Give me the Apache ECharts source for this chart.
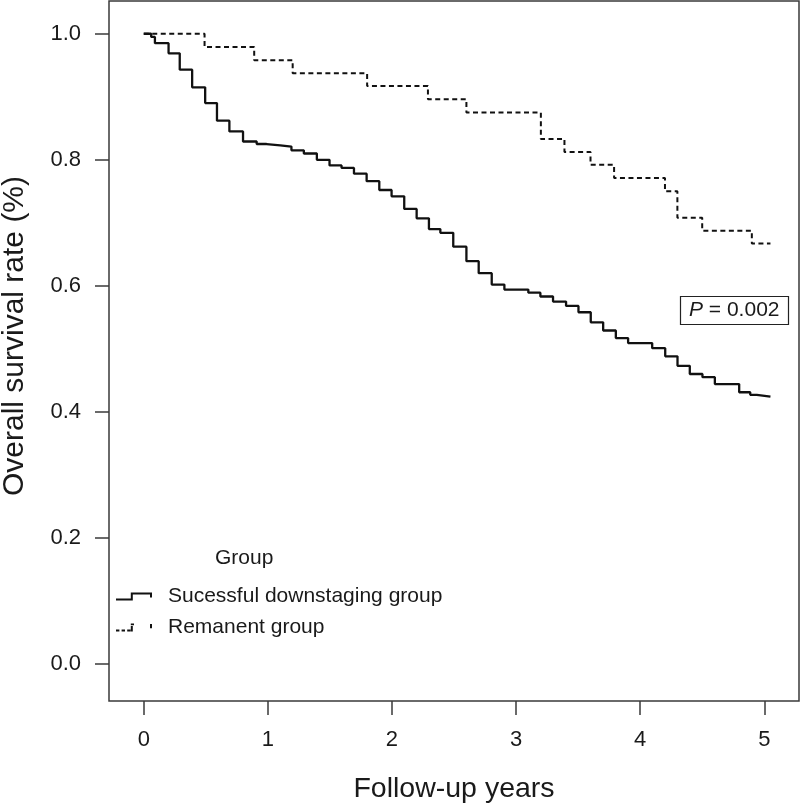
<!DOCTYPE html>
<html>
<head>
<meta charset="utf-8">
<script src="https://cdn.jsdelivr.net/npm/echarts@6/dist/echarts.min.js"></script>
<style>
  html, body { margin: 0; padding: 0; background: #fff; }
  #chart { width: 800px; height: 805px; }
</style>
</head>
<body>
<div id="chart"></div>
<script>
// ---- Data (Kaplan-Meier step curves) ----
const downstagingName = 'Sucessful downstaging group';
const downstagingTimes = [0, 0.06, 0.09, 0.20, 0.29, 0.39, 0.495, 0.59, 0.69, 0.80, 0.91, 0.99, 1.10, 1.19, 1.29, 1.395, 1.497, 1.594, 1.694, 1.796, 1.898, 1.997, 2.099, 2.199, 2.298, 2.39, 2.494, 2.60, 2.699, 2.804, 2.906, 3.099, 3.196, 3.298, 3.403, 3.503, 3.602, 3.702, 3.804, 3.903, 4.097, 4.202, 4.301, 4.40, 4.502, 4.602, 4.798, 4.887, 4.94, 5.05];
const downstagingSurvival = [1.0, 0.995, 0.985, 0.969, 0.943, 0.915, 0.890, 0.862, 0.845, 0.829, 0.825, 0.823, 0.821, 0.815, 0.810, 0.800, 0.791, 0.787, 0.778, 0.766, 0.752, 0.742, 0.722, 0.707, 0.690, 0.684, 0.662, 0.639, 0.620, 0.602, 0.594, 0.589, 0.583, 0.575, 0.568, 0.558, 0.542, 0.529, 0.517, 0.509, 0.501, 0.488, 0.473, 0.460, 0.455, 0.444, 0.431, 0.427, 0.424, 0.424];

const remanentName = 'Remanent group';
const remanentTimes = [0, 0.49, 0.89, 1.20, 1.80, 2.29, 2.60, 3.20, 3.39, 3.60, 3.79, 4.20, 4.30, 4.50, 4.90, 5.05];
const remanentSurvival = [1.0, 0.979, 0.958, 0.9375, 0.917, 0.896, 0.875, 0.833, 0.8125, 0.792, 0.771, 0.75, 0.708, 0.6875, 0.667, 0.667];

const xTickValues = [0, 1, 2, 3, 4, 5];
const yTickValues = [0, 0.2, 0.4, 0.6, 0.8, 1.0];
const xAxisTitle = 'Follow-up years';
const yAxisTitle = 'Overall survival rate (%)';
const legendTitle = 'Group';
const pValueText = '{i|P} = 0.002';

// ---- Chart ----
const FONT = '"Liberation Sans", Arial, Helvetica, sans-serif';
const TXT = '#1a1a1a';
const AX = '#3a3a3a';

const solidIcon = 'path://M0 6h16.5v2h-16.5z M14.8 0h2v8h-2z M14.8 0h21.2v2h-21.2z M34 0h2v5h-2z';
const dashIcon = 'path://M0 6h3.4v2h-3.4z M5.6 6h3.4v2h-3.4z M11.2 6h3.4v2h-3.4z M14.8 2.6h2v5.4h-2z M14.8 0h3.2v1.8h-3.2z M34 0.6h2v4.2h-2z';

const chart = echarts.init(document.getElementById('chart'), null, { renderer: 'canvas' });

chart.setOption({
  animation: false,
  backgroundColor: '#fff',
  textStyle: { fontFamily: FONT },
  grid: {
    left: 109, right: 1, top: 1, bottom: 104,
    show: true, borderColor: AX, borderWidth: 1.5,
    containLabel: false, outerBoundsMode: 'none'
  },
  title: [
    {
      text: legendTitle, left: 215, top: 548, padding: 0,
      textStyle: { fontFamily: FONT, fontSize: 21, fontWeight: 'normal', color: TXT }
    },
    {
      text: pValueText, left: 680, top: 296, padding: [4, 9, 4, 9],
      borderColor: '#222', borderWidth: 1.2,
      textStyle: {
        fontFamily: FONT, fontSize: 21, fontWeight: 'normal', color: TXT,
        rich: { i: { fontFamily: FONT, fontSize: 21, fontStyle: 'italic', color: TXT } }
      }
    }
  ],
  legend: {
    orient: 'vertical', left: 116, top: 581, padding: 0, itemGap: 0,
    itemWidth: 36, itemHeight: 8, selectedMode: false,
    itemStyle: { color: '#111', borderWidth: 0 },
    textStyle: { fontFamily: FONT, fontSize: 21, color: TXT, lineHeight: 31, padding: [0, 0, 0, 11] },
    data: [
      { name: downstagingName, icon: solidIcon },
      { name: remanentName, icon: dashIcon }
    ]
  },
  xAxis: {
    type: 'value', min: -0.28, max: 5.28,
    splitLine: { show: false },
    axisLine: { show: false, onZero: false },
    axisTick: { show: true, customValues: xTickValues, length: 14, lineStyle: { color: AX, width: 1.5 } },
    axisLabel: { customValues: xTickValues, margin: 28, fontSize: 22, color: TXT, fontFamily: FONT },
    name: xAxisTitle, nameLocation: 'middle', nameGap: 74,
    nameTextStyle: { fontSize: 28.5, color: TXT, fontFamily: FONT }
  },
  yAxis: {
    type: 'value', min: -0.059, max: 1.052,
    splitLine: { show: false },
    axisLine: { show: false, onZero: false },
    axisTick: { show: true, customValues: yTickValues, length: 14, lineStyle: { color: AX, width: 1.5 } },
    axisLabel: { customValues: yTickValues, margin: 28, fontSize: 22, color: TXT, fontFamily: FONT,
      formatter: v => Number(v).toFixed(1) },
    name: yAxisTitle, nameLocation: 'middle', nameGap: 79,
    nameTextStyle: { fontSize: 30, color: TXT, fontFamily: FONT, padding: [0, 0, 0, 30] }
  },
  series: [
    {
      name: downstagingName, type: 'line', step: 'end',
      symbol: 'none', showSymbol: false,
      itemStyle: { color: '#111' },
      lineStyle: { color: '#111', width: 2.3 },
      data: downstagingTimes.map((t, i) => [t, downstagingSurvival[i]])
    },
    {
      name: remanentName, type: 'line', step: 'end',
      symbol: 'none', showSymbol: false,
      itemStyle: { color: '#111' },
      lineStyle: { color: '#111', width: 2, type: [5, 3.5] },
      data: remanentTimes.map((t, i) => [t, remanentSurvival[i]])
    }
  ]
});
</script>
</body>
</html>
